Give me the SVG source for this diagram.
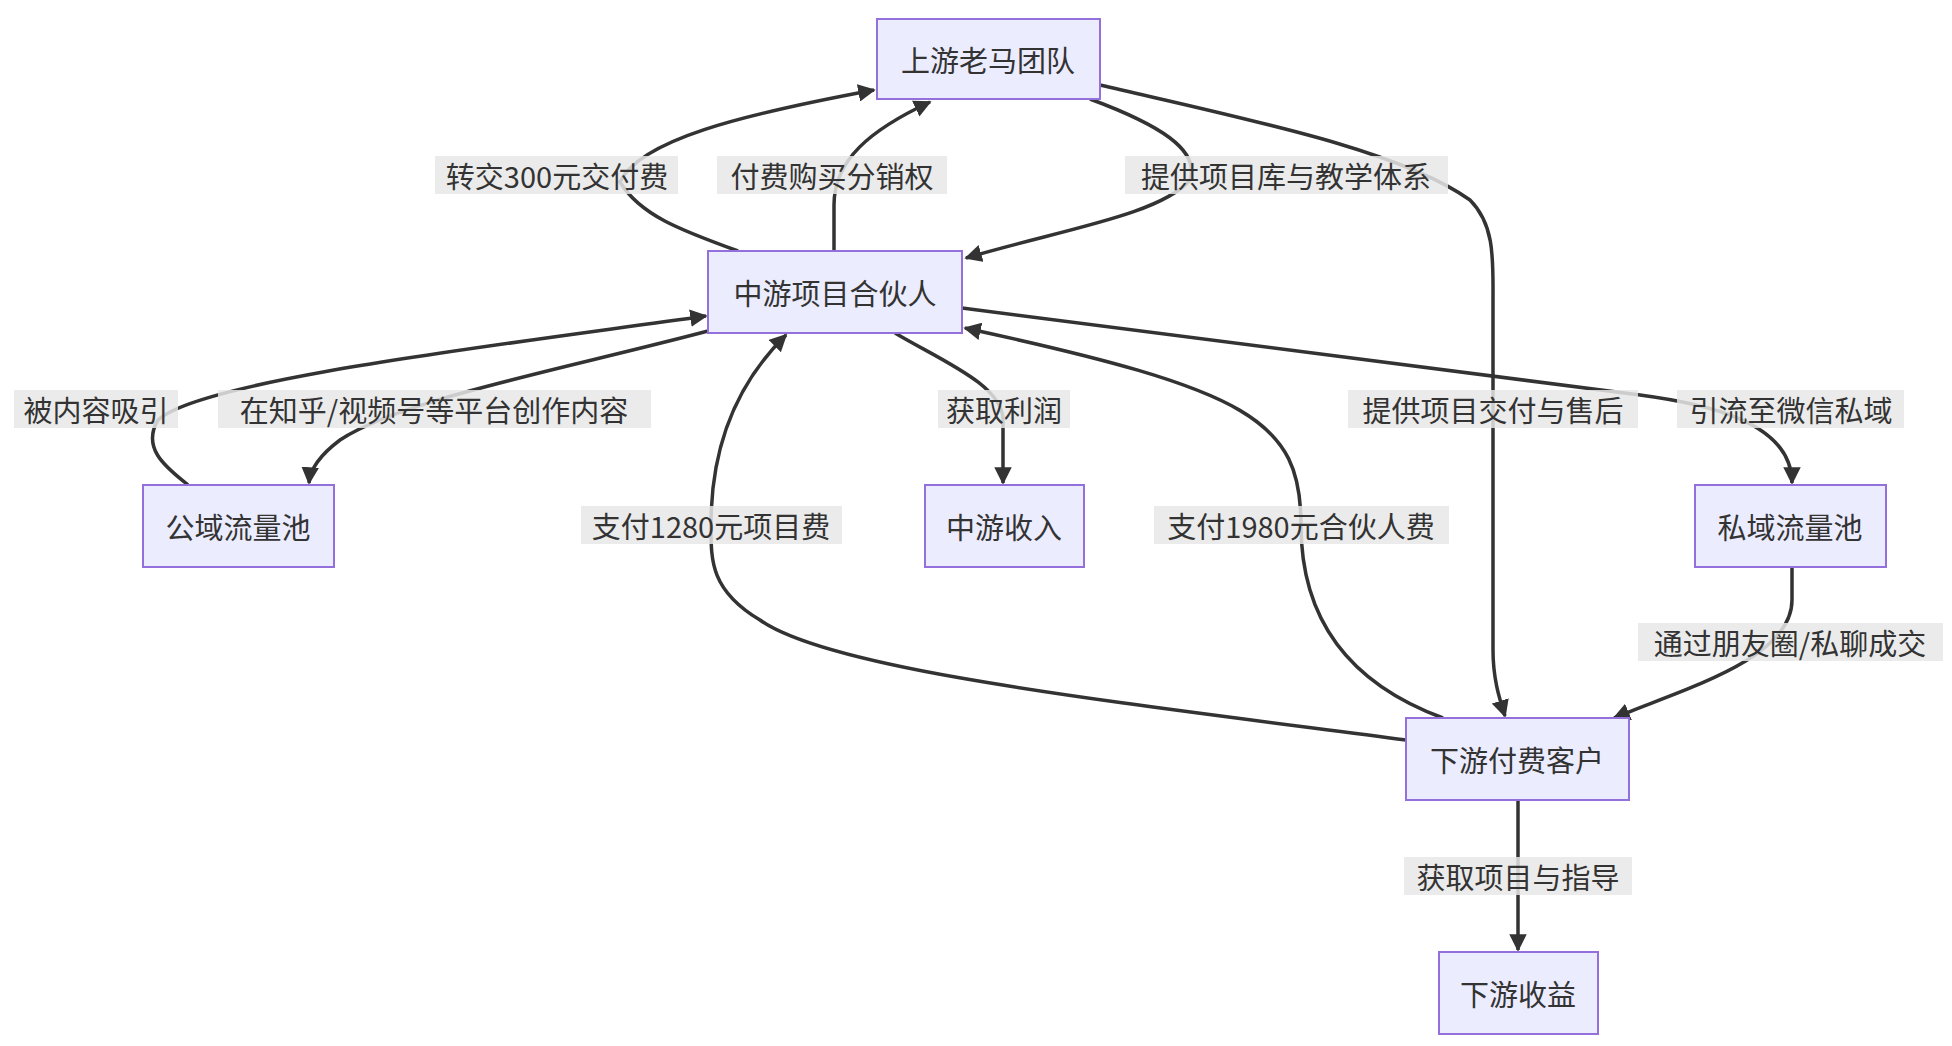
<svg xmlns="http://www.w3.org/2000/svg" width="1952" height="1046" viewBox="0 0 1952 1046">
<defs>
<marker id="ah" viewBox="0 0 10 10" refX="9" refY="5" markerWidth="5" markerHeight="5" orient="auto-start-reverse" markerUnits="strokeWidth"><path d="M0,0 L10,5 L0,10 z" fill="#333"/></marker>
<style>
.n rect{fill:#ECECFF;stroke:#9370DB;stroke-width:2}
text{font-family:"Noto Sans CJK SC","Liberation Sans",sans-serif;font-size:29px;fill:#333;text-anchor:middle;dominant-baseline:central}
.e path{fill:none;stroke:#333;stroke-width:3.5;marker-end:url(#ah)}
.l rect{fill:#e8e8e8;opacity:0.85}
</style>
</defs>
<rect width="1952" height="1046" fill="#fff"/>
<g class="e" id="connectors">
<path d="M738,251 C680,230 640,215 620,182 C640,140 740,115 874,90"/>
<path d="M834,251 L834,205 C834,160 870,130 930,102"/>
<path d="M1090,99 C1160,125 1200,150 1190,180 C1160,215 1060,230 966,258"/>
<path d="M1100,85 C1250,120 1400,150 1470,200 C1495,225 1493,260 1493,300 L1493,650 C1493,680 1500,700 1505,716"/>
<path d="M962,308 L1640,395 C1700,403 1792,420 1792,483"/>
<path d="M895,333 C940,360 1003,385 1003,420 L1003,483"/>
<path d="M188,485 C170,470 140,450 158,420 C200,380 500,345 706,316"/>
<path d="M708,331 C560,370 400,400 340,440 C320,455 310,470 309,483"/>
<path d="M1406,740 C1100,700 830,670 760,620 C710,590 711,560 711,525 C711,440 740,380 786,335"/>
<path d="M1443,718 C1340,680 1301,610 1301,525 C1301,420 1250,390 965,328"/>
<path d="M1792,567 L1792,600 C1792,660 1680,690 1614,718"/>
<path d="M1518,800 L1518,950"/>
</g>
<g class="l" id="labels">
<rect x="435" y="156" width="243" height="38"/><text x="557" y="175">转交300元交付费</text>
<rect x="717" y="156" width="230" height="38"/><text x="832" y="175">付费购买分销权</text>
<rect x="1125" y="156" width="323" height="38"/><text x="1286" y="175">提供项目库与教学体系</text>
<rect x="1348" y="390" width="290" height="38"/><text x="1493" y="409">提供项目交付与售后</text>
<rect x="1677" y="390" width="227" height="38"/><text x="1791" y="409">引流至微信私域</text>
<rect x="938" y="390" width="132" height="38"/><text x="1004" y="409">获取利润</text>
<rect x="14" y="390" width="164" height="38"/><text x="96" y="409">被内容吸引</text>
<rect x="218" y="390" width="433" height="38"/><text x="434" y="409">在知乎/视频号等平台创作内容</text>
<rect x="581" y="506" width="261" height="38"/><text x="711" y="525">支付1280元项目费</text>
<rect x="1154" y="506" width="295" height="38"/><text x="1301" y="525">支付1980元合伙人费</text>
<rect x="1638" y="623" width="305" height="38"/><text x="1790" y="642">通过朋友圈/私聊成交</text>
<rect x="1404" y="857" width="228" height="38"/><text x="1518" y="876">获取项目与指导</text>
</g>
<g class="n" id="upstream"><rect x="877" y="19" width="223" height="80"/><text x="988" y="59">上游老马团队</text></g>
<g class="n" id="partner"><rect x="708" y="251" width="254" height="82"/><text x="835" y="292">中游项目合伙人</text></g>
<g class="n" id="public"><rect x="143" y="485" width="191" height="82"/><text x="238" y="526">公域流量池</text></g>
<g class="n" id="midincome"><rect x="925" y="485" width="159" height="82"/><text x="1004" y="526">中游收入</text></g>
<g class="n" id="private"><rect x="1695" y="485" width="191" height="82"/><text x="1790" y="526">私域流量池</text></g>
<g class="n" id="customer"><rect x="1406" y="718" width="223" height="82"/><text x="1517" y="759">下游付费客户</text></g>
<g class="n" id="gain"><rect x="1439" y="952" width="159" height="82"/><text x="1518" y="993">下游收益</text></g>
</svg>
